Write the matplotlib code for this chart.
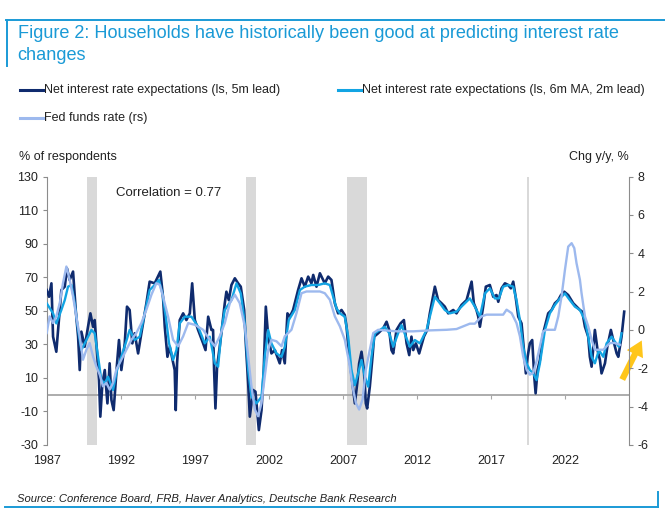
import matplotlib
matplotlib.use("Agg")
import matplotlib.pyplot as plt
from matplotlib.lines import Line2D

plt.rcParams['font.family'] = ['Liberation Sans', 'DejaVu Sans']
plt.rcParams['axes.unicode_minus'] = False

# Net interest rate expectations (ls, 5m lead), % of respondents
exp_years = [1987.00, 1987.16, 1987.32, 1987.43, 1987.65, 1987.99, 1988.22, 1988.37, 1988.55, 1988.78,
             1988.96, 1989.12, 1989.23, 1989.34, 1989.57, 1989.79, 1989.95, 1990.13, 1990.24, 1990.35,
             1990.53, 1990.62, 1990.76, 1990.92, 1991.10, 1991.25, 1991.37, 1991.52, 1991.75, 1991.88,
             1992.04, 1992.27, 1992.42, 1992.60, 1992.78, 1992.94, 1993.17, 1993.39, 1993.73, 1993.95,
             1994.29, 1994.40, 1994.67, 1994.85, 1994.97, 1995.15, 1995.31, 1995.64, 1995.71, 1995.80,
             1995.98, 1996.21, 1996.43, 1996.66, 1996.82, 1997.00, 1997.22, 1997.56, 1997.72, 1997.90,
             1998.12, 1998.23, 1998.30, 1998.39, 1998.50, 1998.68, 1998.84, 1999.02, 1999.13, 1999.29,
             1999.47, 1999.70, 1999.92, 2000.10, 2000.33, 2000.44, 2000.60, 2000.71, 2000.93, 2001.09,
             2001.32, 2001.50, 2001.65, 2001.79, 2001.95, 2002.17, 2002.40, 2002.73, 2002.89, 2003.07,
             2003.25, 2003.41, 2003.63, 2003.97, 2004.20, 2004.42, 2004.65, 2004.87, 2004.99, 2005.21,
             2005.44, 2005.77, 2006.00, 2006.22, 2006.45, 2006.67, 2006.90, 2007.12, 2007.24, 2007.42,
             2007.64, 2007.80, 2007.96, 2008.09, 2008.25, 2008.41, 2008.54, 2008.63, 2008.81, 2008.99,
             2009.10, 2009.37, 2009.71, 2009.94, 2010.12, 2010.27, 2010.39, 2010.61, 2010.88, 2011.11,
             2011.29, 2011.47, 2011.62, 2011.74, 2011.92, 2012.14, 2012.46, 2012.68, 2012.86, 2013.20,
             2013.42, 2013.65, 2013.87, 2014.10, 2014.44, 2014.66, 2015.00, 2015.34, 2015.68, 2015.83,
             2016.01, 2016.13, 2016.24, 2016.46, 2016.64, 2016.91, 2017.14, 2017.36, 2017.48, 2017.70,
             2017.93, 2018.15, 2018.33, 2018.49, 2018.65, 2018.83, 2019.05, 2019.23, 2019.34, 2019.46,
             2019.61, 2019.77, 2019.91, 2020.00, 2020.13, 2020.29, 2020.51, 2020.85, 2021.08, 2021.30,
             2021.53, 2021.71, 2021.93, 2022.20, 2022.54, 2022.76, 2022.99, 2023.15, 2023.33, 2023.55,
             2023.66, 2023.78, 2024.00, 2024.18, 2024.34, 2024.45, 2024.68, 2024.84, 2025.08, 2025.24,
             2025.47, 2025.58, 2025.80, 2025.98]
exp_values = [62.4, 58.4, 66.4, 34.6, 25.6, 62.4, 64.4, 75.3, 68.4, 73.4,
              50.5, 34.6, 14.7, 37.6, 28.6, 40.5, 48.5, 40.5, 44.5, 30.6,
              8.7, -13.1, 6.7, 14.7, -5.2, 18.7, -3.2, -9.2, 18.7, 32.6,
              14.7, 30.6, 52.5, 50.5, 30.6, 36.6, 24.6, 36.6, 54.5, 67.4,
              66.4, 68.4, 73.4, 58.4, 40.5, 22.6, 28.6, 14.7, -9.2, 18.7,
              44.5, 48.5, 44.5, 48.5, 66.4, 44.5, 38.6, 30.6, 26.6, 46.5,
              38.6, 38.6, 14.7, -8.2, 16.7, 28.6, 40.5, 54.5, 61.4, 56.4,
              65.4, 69.4, 66.4, 64.4, 50.5, 30.6, 6.7, -13.1, 2.8, 1.8,
              -21.1, -9.2, 14.7, 52.5, 34.6, 24.6, 26.6, 18.7, 26.6, 18.7,
              48.5, 46.5, 50.5, 62.4, 69.4, 64.4, 70.4, 66.4, 71.4, 64.4,
              72.4, 66.4, 70.4, 68.4, 54.5, 48.5, 50.5, 47.5, 40.5, 22.6,
              6.7, -5.2, 6.7, 18.7, 25.6, 14.7, -5.2, -8.2, 4.8, 22.6,
              34.6, 36.6, 39.5, 43.5, 38.6, 26.6, 24.6, 38.6, 42.5, 44.5,
              30.6, 23.6, 34.6, 26.6, 30.6, 24.6, 34.6, 38.6, 48.5, 64.4,
              56.4, 54.5, 52.5, 48.5, 50.5, 48.5, 53.5, 56.4, 67.4, 54.5,
              50.5, 46.5, 40.5, 52.5, 64.4, 65.4, 58.4, 59.4, 55.4, 63.4,
              66.4, 65.4, 63.4, 67.4, 58.4, 46.5, 42.5, 24.6, 12.7, 22.6,
              30.6, 32.6, 10.7, 0.8, 14.7, 20.7, 36.6, 48.5, 50.5, 54.5,
              56.4, 59.4, 61.4, 59.4, 54.5, 52.5, 50.5, 49.5, 40.5, 34.6,
              22.6, 16.7, 38.6, 26.6, 20.7, 12.7, 18.7, 28.6, 38.6, 32.6,
              24.6, 22.6, 34.6, 49.5]

# Net interest rate expectations (ls, 6m MA, 2m lead)
ma_years = [1987.00, 1987.43, 1987.65, 1987.99, 1988.22, 1988.44, 1988.67, 1988.89, 1989.12, 1989.34,
            1989.68, 1990.02, 1990.24, 1990.47, 1990.69, 1990.92, 1991.14, 1991.48, 1991.75, 1992.04,
            1992.33, 1992.60, 1992.94, 1993.28, 1993.62, 1993.95, 1994.29, 1994.58, 1994.81, 1995.04,
            1995.26, 1995.53, 1995.76, 1995.98, 1996.32, 1996.77, 1997.22, 1997.67, 1998.01, 1998.35,
            1998.57, 1998.80, 1999.02, 1999.47, 1999.81, 2000.10, 2000.37, 2000.60, 2000.82, 2001.16,
            2001.50, 2001.72, 2001.95, 2002.17, 2002.51, 2002.85, 2003.07, 2003.34, 2003.75, 2004.09,
            2004.42, 2004.87, 2005.32, 2005.77, 2006.11, 2006.34, 2006.56, 2006.79, 2007.12, 2007.35,
            2007.57, 2007.80, 2008.02, 2008.25, 2008.47, 2008.70, 2008.92, 2009.15, 2009.49, 2009.82,
            2010.12, 2010.39, 2010.72, 2010.95, 2011.24, 2011.51, 2011.85, 2012.19, 2012.64, 2012.86,
            2013.20, 2013.54, 2013.87, 2014.21, 2014.66, 2015.11, 2015.56, 2015.90, 2016.24, 2016.58,
            2016.91, 2017.25, 2017.52, 2017.81, 2018.15, 2018.49, 2018.71, 2018.94, 2019.16, 2019.39,
            2019.61, 2019.84, 2020.06, 2020.29, 2020.63, 2020.96, 2021.30, 2021.64, 2021.98, 2022.31,
            2022.65, 2022.99, 2023.33, 2023.55, 2023.78, 2024.00, 2024.27, 2024.57, 2024.79, 2025.13,
            2025.35, 2025.62, 2025.80]
ma_values = [54.5, 48.5, 42.5, 50.5, 56.4, 64.4, 65.4, 54.5, 38.6, 26.6,
             32.6, 38.6, 36.6, 22.6, 8.7, 6.7, 10.7, 2.8, 14.7, 22.6,
             30.6, 38.6, 32.6, 34.6, 48.5, 62.4, 65.4, 68.4, 60.4, 46.5,
             30.6, 20.7, 26.6, 42.5, 46.5, 46.5, 40.5, 30.6, 34.6, 18.7,
             16.7, 38.6, 50.5, 56.4, 66.4, 60.4, 42.5, 14.7, -1.2, -5.2,
             -1.2, 22.6, 38.6, 30.6, 24.6, 22.6, 28.6, 44.5, 50.5, 62.4,
             64.4, 65.4, 65.4, 66.4, 65.4, 58.4, 51.5, 48.5, 46.5, 34.6,
             14.7, 5.7, 12.7, 20.7, 10.7, 4.8, 22.6, 36.6, 38.6, 40.5,
             36.6, 28.6, 36.6, 41.5, 34.6, 28.6, 32.6, 30.6, 38.6, 46.5,
             58.4, 54.5, 50.5, 48.5, 49.5, 53.5, 57.4, 52.5, 46.5, 60.4,
             63.4, 57.4, 57.4, 64.4, 65.4, 64.4, 56.4, 44.5, 28.6, 18.7,
             14.7, 12.7, 8.7, 18.7, 38.6, 48.5, 53.5, 57.4, 60.4, 56.4,
             52.5, 50.5, 44.5, 34.6, 22.6, 18.7, 26.6, 22.6, 30.6, 34.6,
             31.6, 28.6, 36.6]

# Fed funds rate, change y/y in % (rs)
ff_years = [1987.00, 1987.20, 1987.43, 1987.65, 1987.88, 1988.10, 1988.33, 1988.55, 1988.78, 1989.00,
            1989.23, 1989.45, 1989.68, 1989.90, 1990.13, 1990.35, 1990.58, 1990.80, 1991.03, 1991.25,
            1991.48, 1991.70, 1992.04, 1992.38, 1992.72, 1993.05, 1993.39, 1993.73, 1994.07, 1994.40,
            1994.63, 1994.85, 1995.19, 1995.53, 1995.87, 1996.21, 1996.55, 1997.00, 1997.56, 1998.01,
            1998.35, 1998.68, 1999.02, 1999.36, 1999.70, 2000.03, 2000.37, 2000.60, 2000.82, 2001.05,
            2001.27, 2001.50, 2001.72, 2001.95, 2002.17, 2002.51, 2002.85, 2003.07, 2003.30, 2003.52,
            2003.86, 2004.20, 2004.54, 2004.99, 2005.44, 2005.77, 2006.11, 2006.45, 2006.79, 2007.12,
            2007.42, 2007.64, 2007.87, 2008.09, 2008.32, 2008.54, 2008.81, 2009.04, 2009.37, 2010.61,
            2011.74, 2012.86, 2013.99, 2014.66, 2015.11, 2015.56, 2015.90, 2016.35, 2016.69, 2017.25,
            2017.81, 2018.04, 2018.38, 2018.71, 2018.94, 2019.16, 2019.39, 2019.61, 2019.84, 2020.06,
            2020.29, 2020.51, 2020.74, 2021.30, 2021.53, 2021.75, 2021.98, 2022.20, 2022.43, 2022.61,
            2022.76, 2022.99, 2023.10, 2023.33, 2023.55, 2023.78, 2024.00, 2024.57, 2024.79, 2025.02,
            2025.35, 2025.69]
ff_values = [-0.16, 0.71, 0.36, 0.71, 1.40, 2.44, 3.31, 2.62, 1.75, 0.71,
             -0.33, -1.55, -1.03, -0.68, -1.38, -1.90, -2.33, -2.94, -2.76, -3.11,
             -2.76, -2.07, -1.55, -1.03, -0.51, -0.16, 0.36, 1.06, 1.84, 2.44,
             2.36, 1.75, 0.71, -0.51, -0.85, -0.33, 0.36, 0.27, 0.01, -0.51,
             -0.85, -0.33, 0.36, 1.40, 1.84, 1.40, 0.19, -1.38, -2.94, -4.15,
             -4.50, -3.81, -2.42, -1.03, -0.51, -0.59, -0.85, -0.33, -0.16, 0.01,
             0.88, 1.92, 2.01, 2.01, 2.01, 1.92, 1.58, 0.71, 0.19, -0.51,
             -1.72, -2.94, -3.81, -4.15, -3.63, -2.07, -1.03, -0.16, 0.01, -0.07,
             -0.07, -0.02, 0.01, 0.05, 0.19, 0.33, 0.33, 0.71, 0.80, 0.80,
             0.80, 1.06, 0.88, 0.36, -0.33, -1.38, -2.07, -2.33, -2.24, -1.64,
             -0.85, -0.07, 0.01, 0.01, 0.71, 1.75, 3.14, 4.35, 4.53, 4.27,
             3.49, 2.62, 1.92, 0.71, 0.19, -0.51, -1.03, -1.03, -0.85, -0.68,
             -0.68, -0.77]

recessions = [(1989.75, 1990.40), (2000.45, 2001.10), (2007.25, 2008.65), (2019.45, 2019.55)]
year_ticks = [1987, 1992, 1997, 2002, 2007, 2012, 2017, 2022]

DB_BLUE = '#1a9ad6'
NAVY = '#0f2b6e'
CYAN = '#12a4e3'
LIGHT = '#9db9ee'
TXT = '#222222'
GREY = '#8c8c8c'

fig = plt.figure(figsize=(6.65, 5.19), dpi=100)
ax = fig.add_axes([0.0702, 0.1426, 0.8756, 0.517])

for start, end in recessions:
    ax.axvspan(start, end, color='#d9d9d9', lw=0, zorder=0)
ax.axhline(0, color='#a6a6a6', lw=1.3, zorder=1)

ax.plot(exp_years, exp_values, color=NAVY, lw=1.9, zorder=3)
ax.plot(ma_years, ma_values, color=CYAN, lw=1.7, zorder=4)

ax.set_xlim(1987, 2026.3)
ax.set_ylim(-30, 130)
ax.set_yticks(range(-30, 131, 20))
ax.set_xticks(year_ticks)
ax.tick_params(axis='y', direction='out', length=3, color=GREY, labelsize=9, labelcolor=TXT, pad=3)
ax.tick_params(axis='x', length=0, labelsize=9, labelcolor=TXT, pad=7)
for s in ['top', 'bottom', 'right']:
    ax.spines[s].set_visible(False)
ax.spines['left'].set_color(GREY)

# tick marks on the zero line
sec = ax.secondary_xaxis(30 / 160)
sec.set_xticks(year_ticks[1:])
sec.tick_params(direction='out', length=3, color='#a6a6a6', labelbottom=False, labeltop=False)
sec.spines['bottom'].set_visible(False)
sec.spines['top'].set_visible(False)

ax2 = ax.twinx()
ax2.plot(ff_years, ff_values, color=LIGHT, lw=1.7, zorder=5)
ax2.set_ylim(-6, 8)
ax2.set_yticks(range(-6, 9, 2))
ax2.tick_params(axis='y', direction='out', length=3, color=GREY, labelsize=9, labelcolor=TXT, pad=3)
for s in ['top', 'bottom', 'left']:
    ax2.spines[s].set_visible(False)
ax2.spines['right'].set_color(GREY)

fig.text(116 / 665, 1 - 193 / 519, 'Correlation = 0.77', fontsize=9.5, color=TXT, va='center')

# title and frame
fig.text(17.5 / 665, 1 - 33 / 519, 'Figure 2: Households have historically been good at predicting interest rate',
         fontsize=13.1, color=DB_BLUE, va='center')
fig.text(17.5 / 665, 1 - 56 / 519, 'changes', fontsize=13.1, color=DB_BLUE, va='center')
fig.add_artist(Line2D([6 / 665, 1], [1 - 19.5 / 519] * 2, color=DB_BLUE, lw=1.4))
fig.add_artist(Line2D([6.5 / 665] * 2, [1 - 19.5 / 519, 1 - 66 / 519], color=DB_BLUE, lw=1.4))
fig.add_artist(Line2D([5 / 665, 658 / 665], [1 - 507 / 519] * 2, color=DB_BLUE, lw=1.4))
fig.add_artist(Line2D([658 / 665] * 2, [1 - 507 / 519, 1 - 492 / 519], color=DB_BLUE, lw=1.4))

# legend
legend_items = [(20, 90, NAVY, 'Net interest rate expectations (ls, 5m lead)'),
                (338, 90, CYAN, 'Net interest rate expectations (ls, 6m MA, 2m lead)'),
                (20, 118, LIGHT, 'Fed funds rate (rs)')]
for x0, y0, col, label in legend_items:
    fig.add_artist(Line2D([x0 / 665, (x0 + 23.5) / 665], [1 - y0 / 519] * 2, color=col, lw=2.2))
    fig.text((x0 + 23.5) / 665, 1 - y0 / 519, label, fontsize=9, color=TXT, va='center')

fig.text(19 / 665, 1 - 157 / 519, '% of respondents', fontsize=9, color=TXT, va='center')
fig.text(629 / 665, 1 - 157 / 519, 'Chg y/y, %', fontsize=9, color=TXT, va='center', ha='right')
fig.text(17 / 665, 1 - 499 / 519, 'Source: Conference Board, FRB, Haver Analytics, Deutsche Bank Research',
         fontsize=8.1, style='italic', color=TXT, va='center')

# yellow arrow pointing at the latest reading
ax.annotate('', xy=(643, 181), xycoords='figure pixels', xytext=(621, 137), textcoords='figure pixels',
            arrowprops=dict(arrowstyle='simple,head_width=1.3,head_length=1.1,tail_width=0.45',
                            mutation_scale=10, color='#ffc61a', lw=0),
            annotation_clip=False)

fig.savefig('out.png', dpi=100)
